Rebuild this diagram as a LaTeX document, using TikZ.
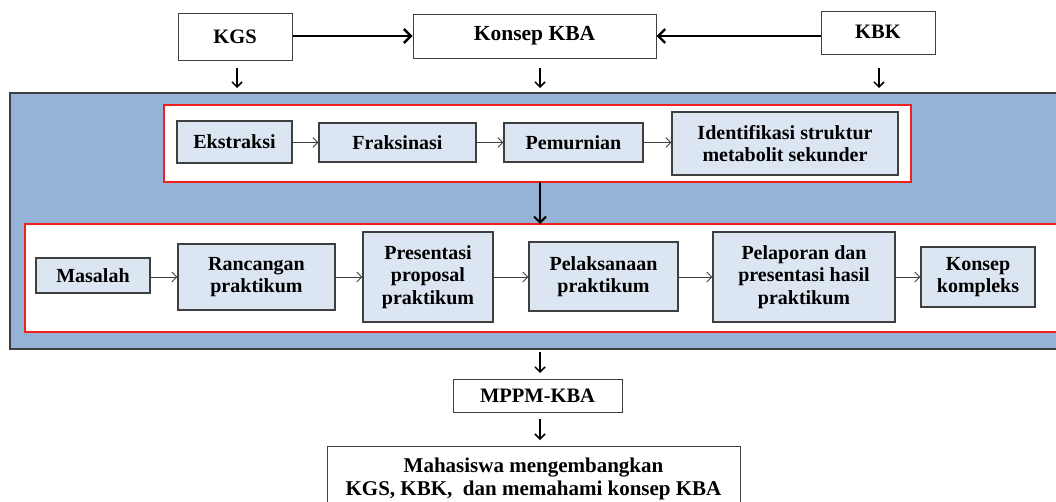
\documentclass[tikz,border=0pt]{standalone}
\usepackage{fontspec}
\setmainfont{Liberation Serif}
\usetikzlibrary{arrows.meta}
\definecolor{panelblue}{HTML}{95B3D7}
\definecolor{boxblue}{HTML}{DCE6F2}
\definecolor{framegray}{HTML}{3F3F3F}
\definecolor{redline}{HTML}{F02020}
\begin{document}
\begin{tikzpicture}[x=1pt,y=-1pt,
  topbox/.style={draw=black!75, line width=1pt, fill=white, inner sep=0pt,
    font=\fontsize{20.5}{23}\selectfont\bfseries},
  stepbox/.style={draw=framegray, line width=1.3pt, fill=boxblue, inner sep=0pt, align=center,
    font=\fontsize{20}{22.5}\selectfont\bfseries},
  redframe/.style={draw=redline, line width=1.5pt, fill=white, inner sep=0pt},
  panel/.style={draw=framegray, line width=2pt, fill=panelblue, inner sep=0pt},
  bigarrow/.style={line width=2.6pt, -{Straight Barb[length=7pt,width=14pt,line width=2.4pt]}},
  midarrow/.style={line width=2pt, -{Straight Barb[length=6pt,width=12pt,line width=2pt]}},
  downarrow/.style={line width=1.5pt, -{Straight Barb[length=5pt,width=10pt,line width=1.5pt]}},
  thinarrow/.style={line width=0.8pt, draw=black!75, -{Straight Barb[length=5pt,width=10pt,line width=0.8pt]}}
]
\clip (0,0) rectangle (1056,501);
\fill[white] (0,0) rectangle (1056,501);

% top boxes
\node[topbox, minimum width=114pt, minimum height=47pt] (kgs) at (235,36.5) {KGS};
\node[topbox, minimum width=243pt, minimum height=44pt, font=\fontsize{21.5}{23}\selectfont\bfseries] (kba) at (534.5,36) {Konsep KBA};
\node[topbox, minimum width=114pt, minimum height=43pt] (kbk) at (878,32.5) {\raisebox{2pt}{KBK}};

\draw[bigarrow] (kgs.east |- kba.west) -- (kba.west);
\draw[bigarrow] (kbk.west |- kba.east) -- (kba.east);

\coordinate (d1s) at (237,68); \coordinate (d1e) at (237,88);
\coordinate (d2s) at (540,68); \coordinate (d2e) at (540,88);
\coordinate (d3s) at (879,68); \coordinate (d3e) at (879,88);
\draw[downarrow] (d1s) -- (d1e);
\draw[downarrow] (d2s) -- (d2e);
\draw[downarrow] (d3s) -- (d3e);

% panel
\node[panel, minimum width=1052pt, minimum height=256pt] (pnl) at (536,221) {};

% upper red frame
\node[redframe, minimum width=747pt, minimum height=77pt] (red1) at (537.5,143.5) {};
\node[stepbox, minimum width=115pt, minimum height=42pt] (ekstr) at (234.5,142) {Ekstraksi};
\node[stepbox, minimum width=157pt, minimum height=39pt] (fraks) at (397.5,142.5) {Fraksinasi};
\node[stepbox, minimum width=139pt, minimum height=39pt] (pemur) at (573.5,142.5) {Pemurnian};
\node[stepbox, minimum width=226pt, minimum height=63pt] (ident) at (785,143.5) {Identifikasi struktur\\metabolit sekunder};
\draw[thinarrow] (ekstr.east |- fraks) -- (fraks.west);
\draw[thinarrow] (fraks) -- (pemur);
\draw[thinarrow] (pemur.east) -- (ident.west |- pemur);

% lower red frame
\node[redframe, minimum width=1039pt, minimum height=108pt] (red2) at (544.5,278) {};
\coordinate (m1) at (540,182);
\coordinate (m2) at (540,224);
\draw[midarrow] (m1) -- (m2);

\node[stepbox, minimum width=114pt, minimum height=35pt] (masal) at (93,275.5) {Masalah};
\node[stepbox, minimum width=157pt, minimum height=66pt] (ranc) at (256.5,277) {Rancangan\\praktikum};
\node[stepbox, minimum width=130pt, minimum height=90pt] (pres) at (428,277) {Presentasi\\proposal\\praktikum};
\node[stepbox, minimum width=149pt, minimum height=69pt] (pelak) at (603.5,276.5) {Pelaksanaan\\praktikum};
\node[stepbox, minimum width=182pt, minimum height=90pt] (pelap) at (804,277) {Pelaporan dan\\presentasi hasil\\praktikum};
\node[stepbox, minimum width=114pt, minimum height=60pt] (komp) at (978,277) {Konsep\\kompleks};
\draw[thinarrow] (masal.east |- ranc) -- (ranc.west);
\draw[thinarrow] (ranc) -- (pres);
\draw[thinarrow] (pres) -- (pelak.west |- pres);
\draw[thinarrow] (pelak.east |- pelap) -- (pelap.west);
\draw[thinarrow] (pelap) -- (komp);

% bottom
\node[topbox, minimum width=169pt, minimum height=33pt] (mppm) at (537.5,395.5) {MPPM-KBA};
\node[topbox, minimum width=413pt, minimum height=66pt, align=center,
  font=\fontsize{21}{22.5}\selectfont\bfseries] (maha) at (533.5,479) {Mahasiswa mengembangkan\\KGS, KBK,\ \ dan memahami konsep KBA};
\coordinate (b1s) at (540,352); \coordinate (b1e) at (540,373);
\coordinate (b2s) at (540,419); \coordinate (b2e) at (540,440);
\draw[downarrow] (b1s) -- (b1e);
\draw[downarrow] (b2s) -- (b2e);
\end{tikzpicture}
\end{document}
